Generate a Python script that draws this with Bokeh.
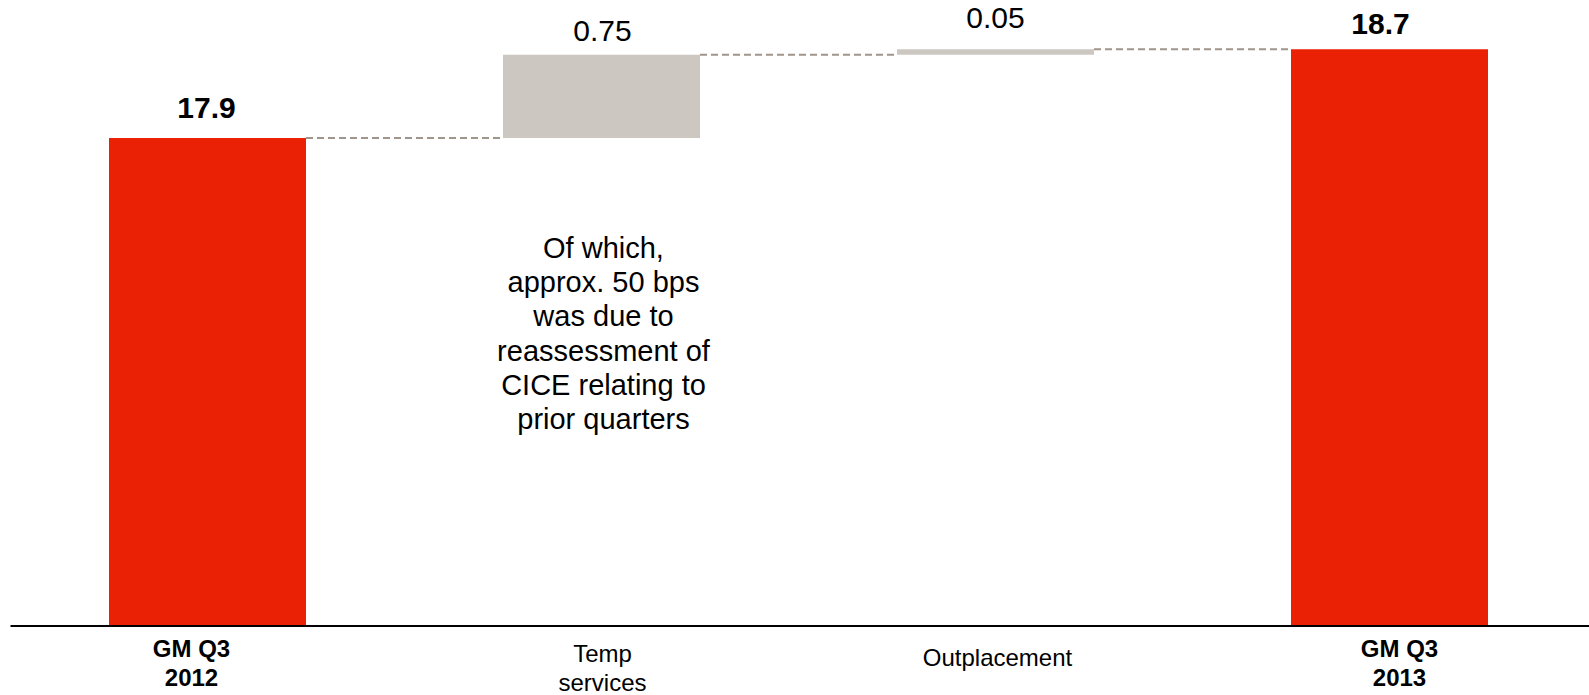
from bokeh.plotting import figure
from bokeh.models import ColumnDataSource, Range1d
from bokeh.core.properties import value
from bokeh.embed import file_html
from bokeh.resources import INLINE

# ---- data ----
categories = ["GM Q3\n2012", "Temp\nservices", "Outplacement", "GM Q3\n2013"]
amounts = [17.9, 0.75, 0.05, 18.7]
kinds = ["total", "delta", "delta", "total"]
value_labels = ["17.9", "0.75", "0.05", "18.7"]
axis_start = 13.5
note_text = "Of which,\napprox. 50 bps\nwas due to\nreassessment of\nCICE relating to\nprior quarters"

# ---- styles ----
RED = "#EA2104"
GREY = "#CCC7C1"
DASH = "#A0958B"
FONT = "Liberation Sans"

W, H = 1589, 695
px_per_unit = 110.9
base_px = 625.5
step_px = 394.0
left_px = 10.0

y_top = axis_start + base_px / px_per_unit
y_bot = axis_start - (H - base_px) / px_per_unit
x_start = -0.5 - left_px / step_px
x_end = x_start + W / step_px

# waterfall geometry
bottoms, tops, levels = [], [], []
running = None
for amt, kind in zip(amounts, kinds):
    if kind == "total":
        b, t = axis_start, amt
        running = amt
    else:
        b, t = running, running + amt
        running = running + amt
    bottoms.append(b)
    tops.append(t)
    levels.append(running)

xs = list(range(len(categories)))
colors = [RED if k == "total" else GREY for k in kinds]

p = figure(width=W, height=H, output_backend="svg", toolbar_location=None,
           x_range=Range1d(x_start, x_end), y_range=Range1d(y_bot, y_top),
           min_border=0, min_border_left=0, min_border_right=0,
           min_border_top=0, min_border_bottom=0)
p.axis.visible = False
p.grid.visible = False
p.outline_line_color = None
p.background_fill_color = "white"
p.border_fill_color = "white"

bw = 0.5
src = ColumnDataSource(dict(x=xs, bottom=bottoms, top=tops, color=colors))
p.vbar(x="x", bottom="bottom", top="top", width=bw, fill_color="color",
       line_color=None, source=src)

# connectors
cx0 = [i + bw / 2 for i in xs[:-1]]
cx1 = [i + 1 - bw / 2 for i in xs[:-1]]
cy = levels[:-1]
p.segment(x0=cx0, y0=cy, x1=cx1, y1=cy, line_color=DASH, line_width=2,
          line_dash="7 4")

# baseline
p.segment(x0=[-0.5], y0=[axis_start], x1=[x_end + 1], y1=[axis_start],
          line_color="black", line_width=2)

# value labels
val_offsets = [(-1, -30), (1, -24), (0, -31), (-9, -25)]
for i, (lab, kind) in enumerate(zip(value_labels, kinds)):
    dx, dy = val_offsets[i]
    p.text(x=[xs[i]], y=[tops[i]], text=[lab], text_align="center",
           text_baseline="middle", x_offset=dx, y_offset=dy,
           text_font=value(FONT), text_font_size="30px",
           text_font_style="bold" if kind == "total" else "normal",
           text_color="black")

# category labels
cat_offsets = [(-16, 37), (1, 42), (2, 31.5), (10, 37)]
for i, (cat, kind) in enumerate(zip(categories, kinds)):
    dx, dy = cat_offsets[i]
    p.text(x=[xs[i]], y=[axis_start], text=[cat], text_align="center",
           text_baseline="middle", x_offset=dx, y_offset=dy,
           text_font=value(FONT), text_font_size="24px",
           text_line_height=1.05,
           text_font_style="bold" if kind == "total" else "normal",
           text_color="black")

# annotation under the Temp services bar
note_y = axis_start + (base_px - 333) / px_per_unit
p.text(x=[xs[1]], y=[note_y], text=[note_text], text_align="center",
       text_baseline="middle", x_offset=2,
       text_font=value(FONT), text_font_size="29px", text_line_height=1.07,
       text_color="black")

open("out.html", "w").write(file_html(p, INLINE))
